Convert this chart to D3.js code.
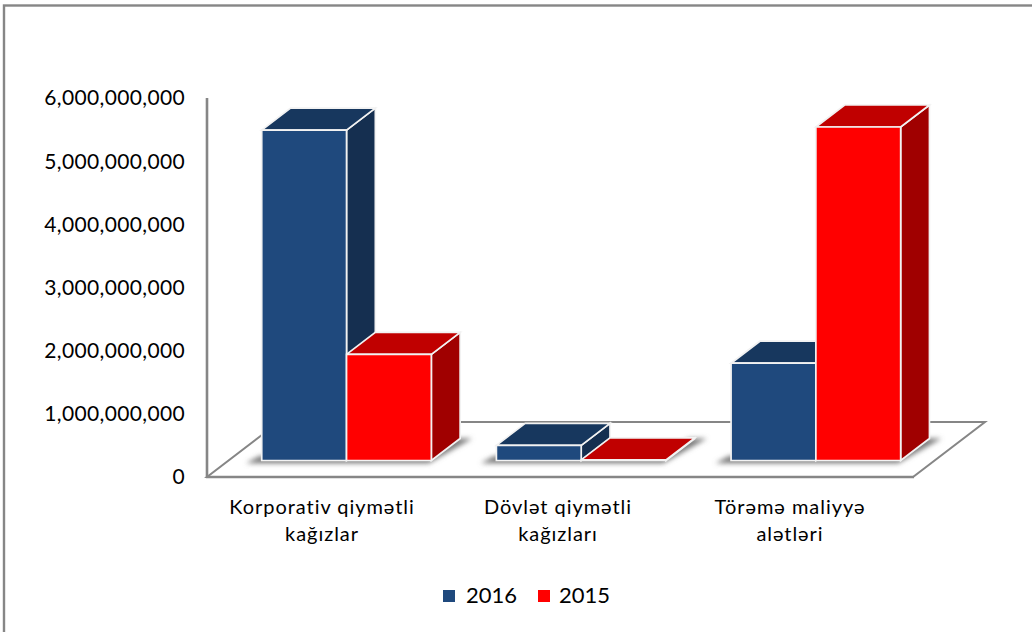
<!DOCTYPE html>
<html><head><meta charset="utf-8">
<script src="https://cdn.jsdelivr.net/npm/d3@7/dist/d3.min.js"></script>
<style>html,body{margin:0;padding:0;background:#fff}svg{display:block}text{font-family:Lato,Carlito,sans-serif;fill:#000}</style>
</head><body><svg id="c" width="1032" height="632"></svg>
<script>
const categories = [["Korporativ qiymətli","kağızlar"],["Dövlət qiymətli","kağızları"],["Törəmə maliyyə","alətləri"]];
const seriesNames = ["2016","2015"];
const values2016 = [5230000000,240000000,1540000000];
const values2015 = [1680000000,10000000,5280000000];
const yTicks = [0,1000000000,2000000000,3000000000,4000000000,5000000000,6000000000];
const frontColors = ["#1F497D","#FF0000"];
const topColors = ["#17375E","#C00000"];
const sideColors = ["#152F50","#A00000"];

const svg = d3.select("#c");
const defs = svg.append("defs");
defs.append("filter").attr("id","blur").attr("x","-20%").attr("y","-50%").attr("width","140%").attr("height","200%")
  .append("feGaussianBlur").attr("stdDeviation",2.5);

svg.append("rect").attr("x",4).attr("y",5.5).attr("width",1040).attr("height",640)
  .attr("fill","#fff").attr("stroke","#868686").attr("stroke-width",2.4);

const x = d3.scaleBand().domain(d3.range(categories.length)).range([207.6,911.6]);
const y = d3.scaleLinear().domain([0,6000000000]).range([477,98]);
const depth = d3.scaleLinear().domain([0,1]).range([0,72]);
const lift = d3.scaleLinear().domain([0,1]).range([0,55]);
const P = (px,val,z)=>[px+depth(z), y(val)-lift(z)];
const line = d3.line();
const poly = pts => line(pts)+"Z";

// floor
svg.append("path").attr("d",poly([P(207,0,0),P(913,0,0),P(913,0,1),P(207,0,1)]))
  .attr("fill","#fff").attr("stroke","#868686").attr("stroke-width",2);
// wall axis
svg.append("line").attr("x1",207).attr("x2",207).attr("y1",y(6000000000)).attr("y2",y(0))
  .attr("stroke","#868686").attr("stroke-width",2.6);
svg.append("line").attr("x1",206).attr("x2",914).attr("y1",y(0)).attr("y2",y(0))
  .attr("stroke","#868686").attr("stroke-width",2.6);

// y labels
svg.append("g").selectAll("text").data(yTicks).join("text")
  .attr("x",185).attr("y",d=>y(d)).attr("dy","0.35em").attr("text-anchor","end")
  .attr("font-size",21).attr("letter-spacing",0.35).text(d=>d3.format(",")(d));

// bars
const groupW = 169.6, z0=0.3, z1=0.7;
const barW = groupW/2;
const data = categories.map((c,i)=>[values2016[i],values2015[i]]);
const shadowG = svg.append("g").attr("filter","url(#blur)");
data.forEach((vals,i)=>{
  const left = x(i)+(x.bandwidth()-groupW)/2, right = left+groupW;
  shadowG.append("path").attr("d",poly([P(left-12,0,z0-0.05),P(right+1,0,z0-0.05),P(right+12,0,z1),P(right-6,0,z1),P(right-8,0,z0+.08),P(left-8,0,z0+.08)]))
    .attr("fill","#7a7a7a");
});
const g = svg.append("g");
const face = (pts,fill)=>g.append("path").attr("d",poly(pts)).attr("fill",fill)
  .attr("stroke","#f2f2f2").attr("stroke-width",1.7).attr("stroke-linejoin","miter");
data.forEach((vals,i)=>{
  const gx = x(i)+(x.bandwidth()-groupW)/2;
  [0,1].forEach(s=>{
    const l = gx+s*barW, r = l+barW, v = vals[s];
    face([P(r,0,z0),P(r,0,z1),P(r,v,z1),P(r,v,z0)],sideColors[s]);
    face([P(l,v,z0),P(r,v,z0),P(r,v,z1),P(l,v,z1)],topColors[s]);
  });
  [0,1].forEach(s=>{
    const l = gx+s*barW, r = l+barW, v = vals[s];
    face([P(l,0,z0),P(r,0,z0),P(r,v,z0),P(l,v,z0)],frontColors[s]);
  });
});

// category labels
categories.forEach((lines,i)=>{
  const t = svg.append("text").attr("text-anchor","middle").attr("font-size",20).attr("letter-spacing",0.95);
  lines.forEach((s,j)=>t.append("tspan").attr("x",[322,558,790][i]).attr("y",514+j*27).text(s));
});

// legend
const lg = svg.append("g");
const legX=[443,538];
seriesNames.forEach((n,i)=>{
  lg.append("rect").attr("x",legX[i]).attr("y",590).attr("width",12).attr("height",12).attr("fill",frontColors[i]);
  lg.append("text").attr("x",legX[i]+(i?21:23)).attr("y",603).attr("font-size",22).text(n);
});
</script></body></html>
